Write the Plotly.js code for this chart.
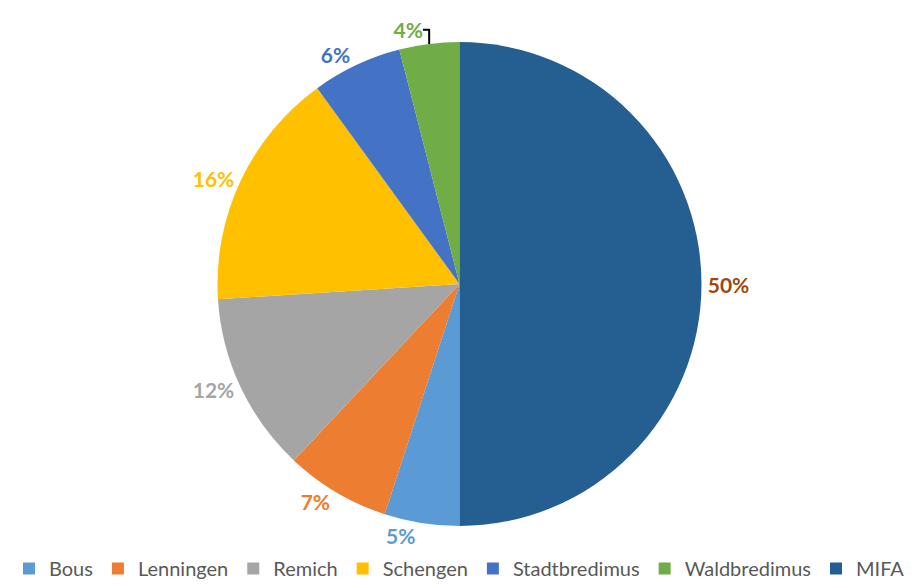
<!DOCTYPE html>
<html>
<head>
<meta charset="utf-8">
<script src="https://cdn.plot.ly/plotly-3.0.1.min.js"></script>
<style>html,body{margin:0;padding:0;background:#fff;}#chart{width:919px;height:588px;}</style>
</head>
<body>
<div id="chart"></div>
<script>
const labels = ["Bous", "Lenningen", "Remich", "Schengen", "Stadtbredimus", "Waldbredimus", "MIFA"];
const values = [5, 7, 12, 16, 6, 4, 50];
const sliceColors = ["#5B9BD5", "#ED7D31", "#A5A5A5", "#FFC000", "#4472C4", "#70AD47", "#255E91"];
const labelColors = ["#5B9BD5", "#ED7D31", "#A5A5A5", "#FFC000", "#4472C4", "#70AD47", "#9E480E"];

const trace = {
  type: "pie",
  labels: labels,
  values: values,
  sort: false,
  direction: "clockwise",
  rotation: 180,
  textinfo: "percent",
  texttemplate: "%{percent:.0%}",
  textposition: "outside",
  outsidetextfont: {family: "Lato, 'Open Sans', sans-serif", size: 21, color: labelColors, weight: "bold"},
  marker: {colors: sliceColors, line: {color: "#ffffff", width: 0}},
  hoverinfo: "label+percent",
  domain: {x: [0.05, 0.95], y: [0, 1]},
  automargin: false
};

const layout = {
  width: 919,
  height: 588,
  margin: {l: 10, r: 10, t: 42, b: 62},
  paper_bgcolor: "#ffffff",
  showlegend: true,
  legend: {
    orientation: "h",
    x: 0.5, xanchor: "center",
    yref: "container",
    y: 0, yanchor: "bottom",
    font: {family: "Lato, 'Open Sans', sans-serif", size: 20, color: "#595959"},
    traceorder: "normal",
    itemwidth: 30
  }
};

Plotly.newPlot("chart", [trace], layout, {displayModeBar: false, staticPlot: true});
</script>
</body>
</html>
